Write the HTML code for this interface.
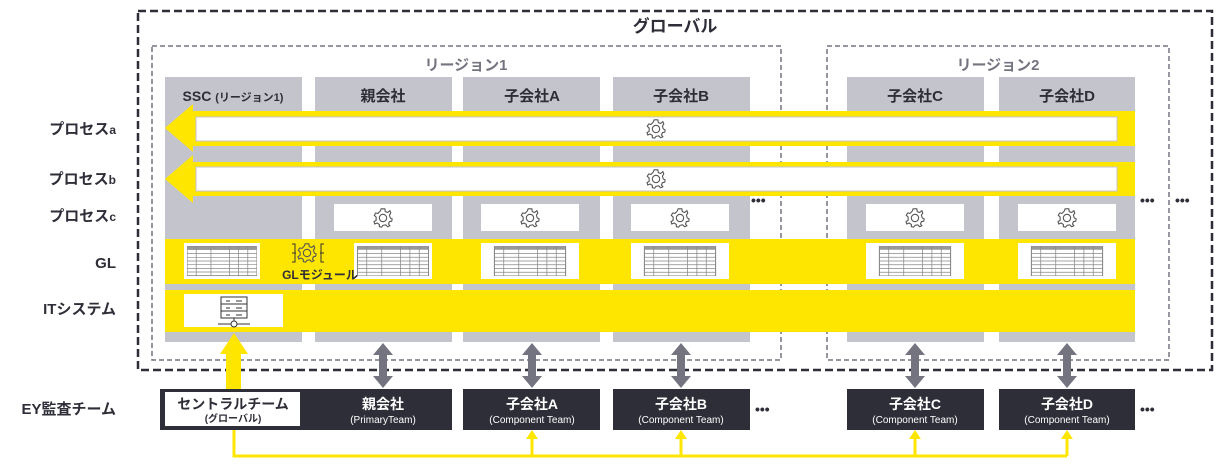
<!DOCTYPE html>
<html><head><meta charset="utf-8"><style>
html,body{margin:0;padding:0;background:#fff;}
svg{display:block;font-family:"Liberation Sans","Noto Sans CJK JP",sans-serif;font-weight:bold;}
</style></head><body>
<svg width="1222" height="466" viewBox="0 0 1222 466" xmlns="http://www.w3.org/2000/svg">
<defs>
<symbol id="gear" viewBox="-12 -12 24 24">
<g fill="none" stroke="#555" stroke-width="1.2">
<circle r="4"/>
<path d="M-2,-10 L2,-10 L2.5,-7 L5,-6 L7.5,-8 L8.5,-5.5 L7,-3 L8,0 L10,1 L9.5,3.5 L7,4 L6,6.5 L7.5,8.5 L5,9.5 L3,7.5 L0,8 L-1.5,10 L-4,9.5 L-4,7 L-6.5,5.5 L-9,6.5 L-9.8,4 L-7.5,2.5 L-7.5,-1 L-9.5,-3 L-8,-5.5 L-5.5,-5 L-3,-7.5 Z"/>
</g>
</symbol>
<symbol id="table" viewBox="0 0 76 32">
<rect x="0" y="0" width="76" height="32" fill="#fff" stroke="#777" stroke-width="1"/>
<rect x="0" y="0" width="76" height="4" fill="#999"/>
<g stroke="#888" stroke-width="0.8">
<line x1="0" y1="8" x2="76" y2="8"/><line x1="0" y1="12" x2="76" y2="12"/><line x1="0" y1="16" x2="76" y2="16"/><line x1="0" y1="20" x2="76" y2="20"/><line x1="0" y1="24" x2="76" y2="24"/><line x1="0" y1="28" x2="76" y2="28"/>
<line x1="10" y1="0" x2="10" y2="32"/><line x1="26" y1="0" x2="26" y2="32"/><line x1="46" y1="0" x2="46" y2="32"/><line x1="56" y1="0" x2="56" y2="32"/><line x1="66" y1="0" x2="66" y2="32"/>
</g>
</symbol>
</defs>

<!-- outer boxes -->
<rect x="138" y="11" width="1074" height="359" fill="none" stroke="#2e2e38" stroke-width="2.5" stroke-dasharray="8,4"/>
<text x="675" y="32" font-size="17" fill="#2e2e38" text-anchor="middle">グローバル</text>
<rect x="152" y="46" width="629" height="314" fill="none" stroke="#747480" stroke-width="1.5" stroke-dasharray="5,3"/>
<rect x="827" y="46" width="342" height="314" fill="none" stroke="#747480" stroke-width="1.5" stroke-dasharray="5,3"/>
<text x="466" y="70" font-size="15" fill="#747480" text-anchor="middle">リージョン1</text>
<text x="998" y="70" font-size="15" fill="#747480" text-anchor="middle">リージョン2</text>

<!-- columns -->
<g fill="#c4c4cd">
<rect x="165" y="77" width="137" height="265"/>
<rect x="315" y="77" width="137" height="265"/>
<rect x="463" y="77" width="137" height="265"/>
<rect x="613" y="77" width="137" height="265"/>
<rect x="847" y="77" width="137" height="265"/>
<rect x="999" y="77" width="136" height="265"/>
</g>
<g font-size="15" fill="#2e2e38" text-anchor="middle">
<text x="233" y="101" font-size="14">SSC <tspan font-size="11">(リージョン1)</tspan></text>
<text x="383" y="101">親会社</text>
<text x="532" y="101">子会社A</text>
<text x="681" y="101">子会社B</text>
<text x="915" y="101">子会社C</text>
<text x="1067" y="101">子会社D</text>
</g>

<!-- process arrows -->
<polygon points="165,128 193,104 193,111 1135,111 1135,146 193,146 193,152" fill="#ffe600"/>
<rect x="196" y="117" width="921" height="24" fill="#fff" stroke="#c4c4cd" stroke-width="1"/>
<use href="#gear" x="645" y="118" width="22" height="22"/>
<polygon points="165,179 193,155 193,162 1135,162 1135,196 193,196 193,203" fill="#ffe600"/>
<rect x="196" y="167" width="921" height="24" fill="#fff" stroke="#c4c4cd" stroke-width="1"/>
<use href="#gear" x="645" y="168" width="22" height="22"/>

<!-- process c -->
<g fill="#fff">
<rect x="334" y="204" width="98" height="27"/>
<rect x="481" y="204" width="98" height="27"/>
<rect x="631" y="204" width="98" height="27"/>
<rect x="866" y="204" width="98" height="27"/>
<rect x="1018" y="204" width="98" height="27"/>
</g>
<use href="#gear" x="372" y="207" width="22" height="22"/>
<use href="#gear" x="519" y="207" width="22" height="22"/>
<use href="#gear" x="669" y="207" width="22" height="22"/>
<use href="#gear" x="904" y="207" width="22" height="22"/>
<use href="#gear" x="1056" y="207" width="22" height="22"/>

<!-- GL band -->
<rect x="165" y="239" width="970" height="45" fill="#ffe600"/>
<g fill="#fff">
<rect x="184" y="243" width="76" height="36"/>
<rect x="354" y="243" width="78" height="36"/>
<rect x="481" y="243" width="98" height="36"/>
<rect x="631" y="243" width="98" height="36"/>
<rect x="866" y="243" width="98" height="36"/>
<rect x="1018" y="243" width="98" height="36"/>
</g>
<use href="#table" x="187" y="246" width="70" height="30" preserveAspectRatio="none"/>
<use href="#table" x="357" y="246" width="72" height="30" preserveAspectRatio="none"/>
<use href="#table" x="485" y="246" width="90" height="30" preserveAspectRatio="none"/>
<use href="#table" x="635" y="246" width="90" height="30" preserveAspectRatio="none"/>
<use href="#table" x="870" y="246" width="90" height="30" preserveAspectRatio="none"/>
<use href="#table" x="1022" y="246" width="90" height="30" preserveAspectRatio="none"/>
<g stroke="#333" stroke-width="1" fill="none">
<use href="#gear" x="296" y="242" width="22" height="22"/>
<path d="M292,244 h3 v18 h-3 M292,253 h4 M324,244 h-3 v18 h3 M324,253 h-4"/>
</g>
<text x="320" y="279" font-size="12" fill="#2e2e38" text-anchor="middle">GLモジュール</text>

<!-- IT band -->
<rect x="165" y="290" width="970" height="42" fill="#ffe600"/>
<rect x="184" y="294" width="99" height="33" fill="#fff"/>
<g stroke="#333" stroke-width="1" fill="#fff">
<rect x="221" y="297" width="26" height="21"/>
<line x1="221" y1="304" x2="247" y2="304"/><line x1="221" y1="311" x2="247" y2="311"/>
<line x1="218" y1="324" x2="250" y2="324"/>
<line x1="234" y1="318" x2="234" y2="321"/>
<circle cx="234" cy="324" r="3"/>
</g>
<g stroke="#333" stroke-width="1">
<line x1="226" y1="301" x2="230" y2="301"/><line x1="236" y1="301" x2="242" y2="301"/>
<line x1="226" y1="308" x2="230" y2="308"/><line x1="236" y1="308" x2="242" y2="308"/>
<line x1="226" y1="315" x2="230" y2="315"/><line x1="236" y1="315" x2="242" y2="315"/>
</g>

<!-- left labels -->
<g font-size="15" fill="#2e2e38" text-anchor="end">
<text x="116" y="134">プロセス<tspan font-size="12">a</tspan></text>
<text x="116" y="184">プロセス<tspan font-size="12">b</tspan></text>
<text x="116" y="221">プロセス<tspan font-size="12">c</tspan></text>
<text x="116" y="268">GL</text>
<text x="116" y="314">ITシステム</text>
<text x="116" y="414">EY監査チーム</text>
</g>

<!-- dots -->
<g font-size="14" fill="#2e2e38">
<text x="751" y="205">•••</text>
<text x="1140" y="205">•••</text>
<text x="1175" y="205">•••</text>
<text x="755" y="414">•••</text>
<text x="1140" y="414">•••</text>
</g>

<!-- bottom boxes -->
<g fill="#2e2e38">
<rect x="160" y="389" width="292" height="41"/>
<rect x="463" y="389" width="137" height="41"/>
<rect x="613" y="389" width="137" height="41"/>
<rect x="847" y="389" width="137" height="41"/>
<rect x="999" y="389" width="136" height="41"/>
</g>
<rect x="165" y="392" width="135" height="34" fill="#fff"/>
<text x="233" y="409" font-size="14" fill="#2e2e38" text-anchor="middle">セントラルチーム</text>
<text x="233" y="422" font-size="10" fill="#2e2e38" text-anchor="middle">(グローバル)</text>
<g fill="#fff" text-anchor="middle">
<text x="383" y="409" font-size="14">親会社</text>
<text x="383" y="423" font-size="10" font-weight="normal">(PrimaryTeam)</text>
<text x="532" y="409" font-size="14">子会社A</text>
<text x="532" y="423" font-size="10" font-weight="normal">(Component Team)</text>
<text x="681" y="409" font-size="14">子会社B</text>
<text x="681" y="423" font-size="10" font-weight="normal">(Component Team)</text>
<text x="915" y="409" font-size="14">子会社C</text>
<text x="915" y="423" font-size="10" font-weight="normal">(Component Team)</text>
<text x="1067" y="409" font-size="14">子会社D</text>
<text x="1067" y="423" font-size="10" font-weight="normal">(Component Team)</text>
</g>

<!-- yellow up arrow -->
<polygon points="226,389 226,354 220,354 234,333 248,354 241,354 241,389" fill="#ffe600"/>

<!-- gray double arrows -->
<g fill="#747480">
<polygon points="383,343 393,355 387,355 387,376 393,376 383,388 373,376 379,376 379,355 373,355"/>
<polygon points="532,343 542,355 536,355 536,376 542,376 532,388 522,376 528,376 528,355 522,355"/>
<polygon points="681,343 691,355 685,355 685,376 691,376 681,388 671,376 677,376 677,355 671,355"/>
<polygon points="915,343 925,355 919,355 919,376 925,376 915,388 905,376 911,376 911,355 905,355"/>
<polygon points="1067,343 1077,355 1071,355 1071,376 1077,376 1067,388 1057,376 1063,376 1063,355 1057,355"/>
</g>

<!-- bottom yellow connector -->
<path d="M234,430 V456 H1067" fill="none" stroke="#ffe600" stroke-width="3"/>
<g stroke="#ffe600" stroke-width="3">
<line x1="532" y1="456" x2="532" y2="438"/>
<line x1="681" y1="456" x2="681" y2="438"/>
<line x1="915" y1="456" x2="915" y2="438"/>
<line x1="1067" y1="456" x2="1067" y2="438"/>
</g>
<g fill="#ffe600">
<polygon points="532,430 538,439 526,439"/>
<polygon points="681,430 687,439 675,439"/>
<polygon points="915,430 921,439 909,439"/>
<polygon points="1067,430 1073,439 1061,439"/>
</g>
</svg>
</body></html>
